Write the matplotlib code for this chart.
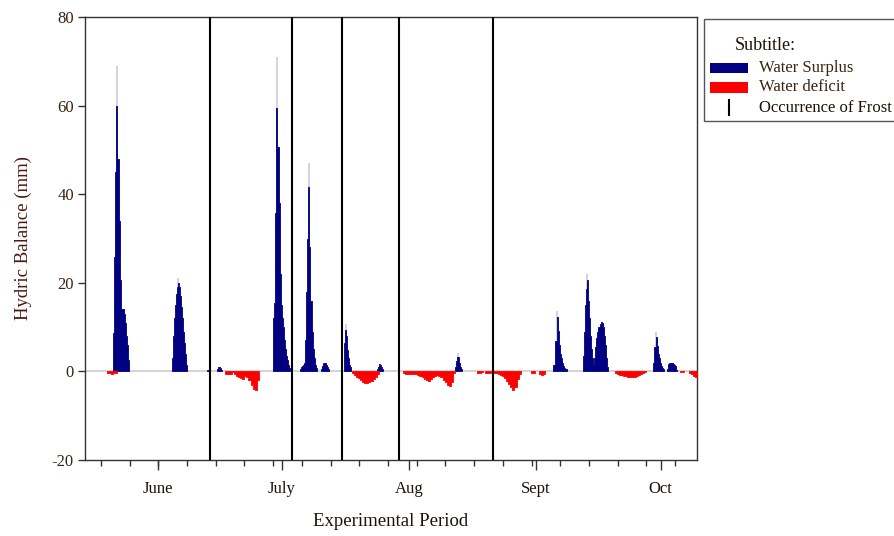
import matplotlib
matplotlib.use('Agg')
import matplotlib.pyplot as plt
import numpy as np
from matplotlib.patches import Rectangle
from matplotlib.lines import Line2D

plt.rcParams['font.family'] = ['Liberation Serif', 'DejaVu Serif']
plt.rcParams['axes.unicode_minus'] = False

# ---- data (x in days from 1 June, y in mm) ----
FINE = 0.25   # sample spacing on the surplus peaks
WIDE = 0.5    # sample spacing on the deficit stretches

# water surplus events: (start day, values)
jun_a_start, jun_a = 6.75, [8.7, 25.9, 45, 60, 48, 34, 20.6, 14, 14, 14, 13, 11, 8, 6, 2.5]
jun_b_start, jun_b = 20.68, [3, 8, 12, 15, 17.5, 19, 20, 19, 17, 14.5, 12, 9, 6.5, 4, 1.5]
jun_c_start, jun_c = 29.1, [0.3, 0.4, 0.3]
jul_a_start, jul_a = 31.5, [0.5, 1.0, 1.0, 0.8, 0.4]
jul_b_start, jul_b = 44.92, [12, 15.4, 35.7, 59.4, 50.7, 38, 22, 15, 12, 10, 7, 5, 3.5, 2.5, 1.5, 0.8]
jul_c_start, jul_c = 51.29, [0.5, 1, 1.2, 1.5, 2, 7, 18, 30, 41.7, 28, 16, 9, 5, 3, 1.5, 0.8]
jul_d_start, jul_d = 56.3, [0.5, 1.2, 1.8, 1.9, 1.8, 1.5, 1, 0.5]
jul_e_start, jul_e = 61.78, [6.3, 9.3, 8, 4.8, 3, 1.5, 1]
jul_f_start, jul_f = 69.66, [0.5, 1, 1.7, 1.5, 1, 0.5]
aug_a_start, aug_a = 88.26, [1, 2.3, 3.3, 3.3, 2, 1, 0.5]
sep_a_start, sep_a = 111.74, [1.5, 1.5, 6.9, 12.2, 9.2, 6, 4, 3.1, 2, 1.3, 0.8, 0.5, 0.5]
sep_b_start, sep_b = 118.73, [3.5, 9, 15, 18.5, 20.6, 16, 12, 8, 5, 3, 1.5]
sep_c_start, sep_c = 121.5, [3, 5.5, 7.5, 9, 10, 10.8, 11.2, 11, 10, 8, 6, 3, 1]
oct_a_start, oct_a = 135.6, [2, 5.4, 7.7, 5.7, 4, 3.1, 2, 1.3, 0.8, 0.5]
oct_b_start, oct_b = 138.8, [0.5, 1.6, 1.8, 1.8, 1.8, 1.8, 1.7, 1.5, 1.2, 0.3]

# narrow maxima of the surplus peaks
tip_days = [7.63, 22.3, 45.8, 53.4, 62.16, 88.9, 112.6, 119.86, 136.2]
tip_mm = [69, 21, 71, 47, 10.8, 4.1, 13.7, 22, 8.8]

# water deficit events: (start day, values)
def_jun_start, def_jun = 5.25, [-0.3, -0.4, -0.5, -0.4, -0.3]
def_jul_a_start, def_jul_a = 33.5, [-0.5, -0.6, -0.5, -0.2, -0.5, -1.0, -1.2, -1.4, -1.7, -1.0,
                                    -1.2, -2.0, -3.0, -4.0, -4.3, -2.0]
def_jul_b_start, def_jul_b = 63.6, [-0.3, -0.8, -1.2, -1.6, -2.0, -2.4, -2.6, -2.6, -2.4, -2.2,
                                    -1.8, -1.3, -0.6]
def_aug_start, def_aug = 75.79, [-0.4, -0.5, -0.5, -0.5, -0.5, -0.5, -0.6, -0.8, -1.0, -1.3,
                                 -1.7, -2.0, -2.2, -1.8, -1.2, -1.0, -0.9, -1.1, -1.3, -1.9,
                                 -2.4, -3.0, -3.3, -2.3, -0.4]
def_aug_b_start, def_aug_b = 93.44, [-0.3, -0.3, -0.2]
def_aug_c_start, def_aug_c = 95.42, [-0.3, -0.3, -0.3]
def_sep_start, def_sep = 97.45, [-0.3, -0.4, -0.6, -0.8, -1.1, -1.5, -2.1, -2.8, -3.5, -4.3,
                                 -3.6, -1.8, -0.5]
def_sep_b_start, def_sep_b = 106.3, [-0.4, -0.4]
def_sep_c_start, def_sep_c = 108.3, [-0.5, -0.7, -0.5]
def_oct_start, def_oct = 126.36, [-0.3, -0.5, -0.7, -0.8, -1.0, -1.1, -1.2, -1.3, -1.3, -1.2,
                                  -1.0, -0.8, -0.6, -0.4, -0.2]
def_oct_b_start, def_oct_b = 141.9, [-0.2, -0.2]
def_oct_c_start, def_oct_c = 144.0, [-0.3, -0.6, -1.0, -1.3]

# days with frost
frost_days = [29.83, 49.4, 61.34, 74.8, 97.3]

# month labels on the axis
month_names = ['June', 'July', 'Aug', 'Sept', 'Oct']
month_days = [17.4, 47.0, 77.3, 107.5, 137.3]

surplus = [(jun_a_start, jun_a), (jun_b_start, jun_b), (jun_c_start, jun_c),
           (jul_a_start, jul_a), (jul_b_start, jul_b), (jul_c_start, jul_c),
           (jul_d_start, jul_d), (jul_e_start, jul_e), (jul_f_start, jul_f),
           (aug_a_start, aug_a), (sep_a_start, sep_a), (sep_b_start, sep_b),
           (sep_c_start, sep_c), (oct_a_start, oct_a), (oct_b_start, oct_b)]
deficit = [(def_jun_start, def_jun), (def_jul_a_start, def_jul_a), (def_jul_b_start, def_jul_b),
           (def_aug_start, def_aug), (def_aug_b_start, def_aug_b), (def_aug_c_start, def_aug_c),
           (def_sep_start, def_sep), (def_sep_b_start, def_sep_b), (def_sep_c_start, def_sep_c),
           (def_oct_start, def_oct), (def_oct_b_start, def_oct_b), (def_oct_c_start, def_oct_c)]

NAVY = '#000080'
RED = '#ff0000'
BROWN = '#3a2412'

fig = plt.figure(figsize=(8.94, 5.36), dpi=100)
ax = fig.add_axes([85 / 894, 76 / 536, 612 / 894, 443 / 536])


def draw_event(start, vals, step, color):
    x = start + step * np.arange(len(vals) + 1)
    y = list(vals) + [vals[-1]]
    ax.fill_between(x, 0, y, step='post', facecolor=color, edgecolor=color,
                    linewidth=0.6, zorder=3)


ax.axhline(0, color='#cccccc', lw=1.2, zorder=1)
ax.vlines(tip_days, 0, tip_mm, color='#c8c8c8', lw=1.1, zorder=2)
for start, vals in surplus:
    draw_event(start, vals, FINE, NAVY)
for start, vals in deficit:
    draw_event(start, vals, WIDE, RED)

for d in frost_days:
    ax.axvline(d, color='black', lw=1.5, zorder=4)

ax.set_xlim(0, 146)
ax.set_ylim(-20, 80)
ax.set_yticks([-20, 0, 20, 40, 60, 80])
ax.set_xticks(month_days)
ax.set_xticklabels(month_names)
ax.set_xticks(np.arange(3.8, 146, 6.85), minor=True)

ax.tick_params(axis='y', direction='out', length=5, width=1, color='#333333',
               labelsize=12, labelcolor=BROWN, pad=3)
ax.tick_params(axis='x', which='major', direction='out', length=7, width=1, color='#333333',
               labelsize=12, labelcolor='#1e1208', pad=8)
ax.tick_params(axis='x', which='minor', direction='out', length=4, width=1, color='#333333')

for s in ax.spines.values():
    s.set_color('#333333')
    s.set_linewidth(1)

ax.set_ylabel('Hydric Balance (mm)', fontsize=13.5, color='#4a1810', labelpad=14)
ax.set_xlabel('Experimental Period', fontsize=13.5, color='#1e1208', labelpad=12)

# legend box (runs off the right edge of the figure, as in the source)
fig.patches.append(Rectangle((704 / 894, 1 - 121 / 536), 200 / 894, 102 / 536,
                             transform=fig.transFigure, facecolor='white',
                             edgecolor='#555555', lw=1, clip_on=False))
fig.text(735 / 894, 1 - 45 / 536, 'Subtitle:', fontsize=13, color='#1e1208',
         va='center', ha='left')
fig.patches.append(Rectangle((710 / 894, 1 - 73.3 / 536), 38 / 894, 10 / 536,
                             transform=fig.transFigure, facecolor=NAVY, edgecolor='none'))
fig.patches.append(Rectangle((710 / 894, 1 - 93.3 / 536), 38 / 894, 11.5 / 536,
                             transform=fig.transFigure, facecolor=RED, edgecolor='none'))
fig.lines.append(Line2D([729.3 / 894, 729.3 / 894], [1 - 100 / 536, 1 - 115 / 536],
                        transform=fig.transFigure, color='black', lw=1.5))
fig.text(759 / 894, 1 - 68.3 / 536, 'Water Surplus', fontsize=12, color=BROWN, va='center')
fig.text(759 / 894, 1 - 86.7 / 536, 'Water deficit', fontsize=12, color=BROWN, va='center')
fig.text(759 / 894, 1 - 107.7 / 536, 'Occurrence of Frost', fontsize=12, color='#1e1208',
         va='center')

fig.savefig('out.png', dpi=100)
